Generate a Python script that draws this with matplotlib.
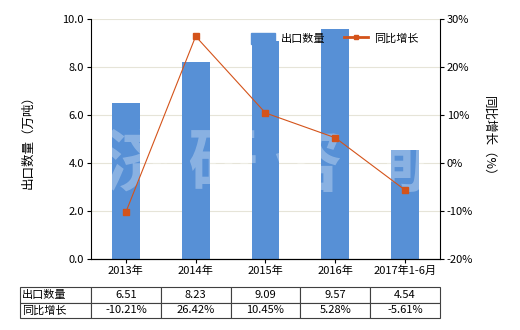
import matplotlib
matplotlib.use('Agg')
import matplotlib.pyplot as plt

plt.rcParams['font.family'] = ['Noto Sans CJK SC', 'DejaVu Sans']
plt.rcParams['font.size'] = 8

# %% DATA
years = ['2013年', '2014年', '2015年', '2016年', '2017年1-6月']
qty = [6.51, 8.23, 9.09, 9.57, 4.54]
growth = [-10.21, 26.42, 10.45, 5.28, -5.61]
qty_txt = ['6.51', '8.23', '9.09', '9.57', '4.54']
growth_txt = ['-10.21%', '26.42%', '10.45%', '5.28%', '-5.61%']

bar_col = '#5790D6'
line_col = '#D4531A'

# %% PLOT
fig = plt.figure(figsize=(5.2, 3.3), dpi=100)
ax1 = fig.add_axes([0.175, 0.215, 0.671, 0.727])
x = range(len(years))

ax1.bar(x, qty, width=0.4, color=bar_col, zorder=2)
ax1.set_ylim(0, 10)
ax1.set_yticks([0, 2, 4, 6, 8, 10])
ax1.set_yticklabels(['%.1f' % v for v in [0, 2, 4, 6, 8, 10]])
ax1.set_xlim(-0.5, 4.5)
ax1.set_xticks(list(x))
ax1.set_xticklabels(years)
ax1.grid(axis='y', color='#E6E4D8', lw=0.8, zorder=0)
ax1.set_ylabel('出口数量（万吨）', fontsize=9, labelpad=20)
ax1.spines['top'].set_visible(False)
ax1.spines['right'].set_visible(False)
ax1.tick_params(length=3, width=0.8, pad=2)

ax2 = ax1.twinx()
ax2.plot(x, growth, color=line_col, lw=0.8, marker='s', ms=4.5, zorder=3)
ax2.set_ylim(-20, 30)
ax2.set_yticks([-20, -10, 0, 10, 20, 30])
ax2.set_yticklabels(['%d%%' % v for v in [-20, -10, 0, 10, 20, 30]])
ax2.set_ylabel('同比增长（%）', fontsize=9, rotation=-90, labelpad=16)
ax2.spines['top'].set_visible(False)
ax2.spines['left'].set_visible(False)
ax2.tick_params(length=3, width=0.8, pad=2)

# watermark
ax1.text(0.5, 0.39, '济 研 咨 询', transform=ax1.transAxes, fontsize=50,
         color='white', alpha=0.3, ha='center', va='center',
         fontweight='bold', zorder=5)

# legend
h1 = plt.Rectangle((0, 0), 1, 1, color=bar_col)
h2, = ax2.plot([], [], color=line_col, lw=2, marker='s', ms=3)
ax2.legend([h1, h2], ['出口数量', '同比增长'], loc='center left',
           bbox_to_anchor=(0.458, 0.92), ncol=2, frameon=False,
           borderpad=0, borderaxespad=0, fontsize=8,
           handlelength=2.2, handleheight=1.2, handletextpad=0.55,
           columnspacing=1.6)

# table
cells = [['出口数量'] + qty_txt, ['同比增长'] + growth_txt]
tbl = ax1.table(cellText=cells, cellLoc='center',
                colWidths=[0.203] + [0.2] * 5,
                bbox=[-0.203, -0.246, 1.203, 0.129])
tbl.auto_set_font_size(False)
tbl.set_fontsize(8)
for (r, c), cell in tbl.get_celld().items():
    cell.set_edgecolor('#404040')
    cell.set_linewidth(0.8)
    if c == 0:
        cell.get_text().set_ha('left')
        cell.PAD = 0.03

fig.savefig('out.png', dpi=100)
